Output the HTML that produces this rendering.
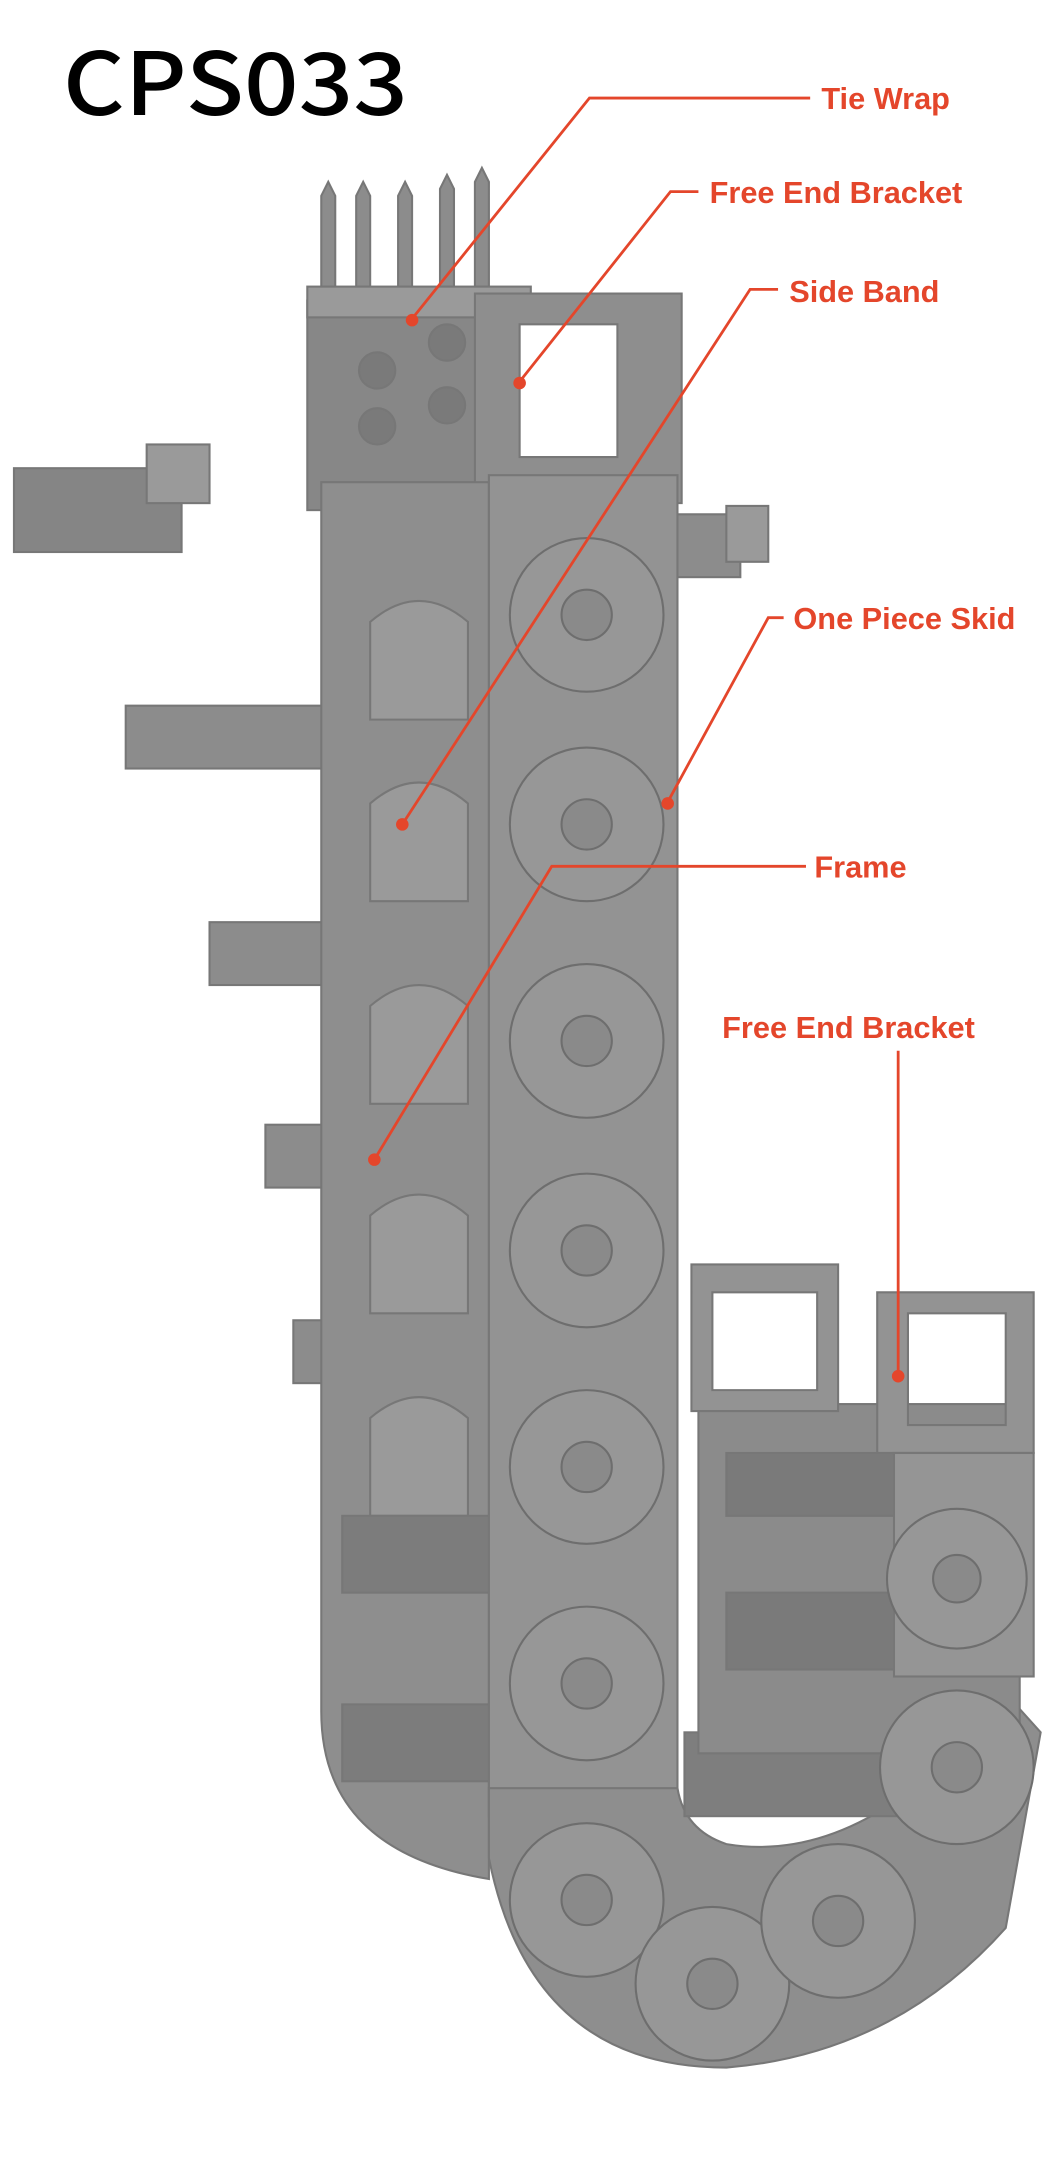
<!DOCTYPE html>
<html><head><meta charset="utf-8"><style>
html,body{margin:0;padding:0;background:#fff;}
svg{display:block;}
.lbl{font-family:"Liberation Sans",sans-serif;font-weight:bold;fill:#e4462b;font-size:22px;}
</style></head><body>
<svg width="1063" height="2181" viewBox="0 0 761 1561" xmlns="http://www.w3.org/2000/svg">
<rect width="761" height="1561" fill="#fff"/>
<text x="45" y="82" font-family="'Noto Sans CJK SC','Liberation Sans',sans-serif" font-weight="500" font-size="62" textLength="247" lengthAdjust="spacingAndGlyphs" fill="#000">CPS033</text>

<g fill="#8c8c8c" stroke="#777" stroke-width="1.5">
<rect x="10" y="335" width="120" height="60" fill="#858585"/>
<rect x="105" y="318" width="45" height="42" fill="#9a9a9a"/>
<rect x="475" y="368" width="55" height="45"/>
<rect x="520" y="362" width="30" height="40" fill="#9a9a9a"/>
<rect x="90" y="505" width="150" height="45"/>
<rect x="150" y="660" width="165" height="45"/>
<rect x="190" y="805" width="160" height="45"/>
<rect x="210" y="945" width="170" height="45"/>
<path d="M230 140 l5 -10 l5 10 v70 h-10z M255 140 l5 -10 l5 10 v70 h-10z M285 140 l5 -10 l5 10 v70 h-10z M315 135 l5 -10 l5 10 v75 h-10z M340 130 l5 -10 l5 10 v80 h-10z"/>
<rect x="220" y="215" width="125" height="150" fill="#878787"/>
<rect x="220" y="205" width="160" height="22" fill="#9a9a9a"/>
<path d="M340 210 h148 v150 h-148z M372 232 v95 h70 v-95z" fill="#8e8e8e" fill-rule="evenodd"/>
<circle cx="270" cy="265" r="13" fill="#7a7a7a"/><circle cx="270" cy="305" r="13" fill="#7a7a7a"/>
<circle cx="320" cy="245" r="13" fill="#7a7a7a"/><circle cx="320" cy="290" r="13" fill="#7a7a7a"/>
<path d="M230 345 h120 v1000 q-60 -10 -90 -40 q-30 -30 -30 -80z" fill="#8e8e8e"/>
<path d="M265 445 q35 -30 70 0 v70 h-70z M265 575 q35 -30 70 0 v70 h-70z M265 720 q35 -30 70 0 v70 h-70z M265 870 q35 -30 70 0 v70 h-70z M265 1015 q35 -30 70 0 v70 h-70z" fill="#9a9a9a"/>
<rect x="245" y="1085" width="110" height="55" fill="#7c7c7c"/>
<rect x="245" y="1220" width="110" height="55" fill="#7c7c7c"/>
<rect x="350" y="340" width="135" height="960" fill="#939393"/>
<path d="M350 1280 L350 1330 Q380 1480 520 1480 Q640 1470 720 1380 L745 1240 L700 1190 L640 1290 Q580 1330 520 1320 Q490 1310 485 1280 Z" fill="#8e8e8e"/>
<rect x="490" y="1240" width="170" height="60" fill="#7e7e7e"/>
<rect x="500" y="1005" width="230" height="250" fill="#8b8b8b"/>
<rect x="520" y="1040" width="150" height="45" fill="#7a7a7a"/>
<rect x="520" y="1140" width="150" height="55" fill="#7a7a7a"/>
<path d="M495 905 h105 v105 h-105z M510 925 v70 h75 v-70z" fill="#939393" fill-rule="evenodd"/>
<path d="M628 925 h112 v115 h-112z M650 940 v80 h70 v-80z" fill="#939393" fill-rule="evenodd"/>
<rect x="640" y="1040" width="100" height="160" fill="#959595"/>
</g>
<g fill="#8a8a8a" stroke="#6e6e6e" stroke-width="1.5">
<circle cx="420" cy="440" r="55" fill="#979797"/><circle cx="420" cy="440" r="18"/>
<circle cx="420" cy="590" r="55" fill="#979797"/><circle cx="420" cy="590" r="18"/>
<circle cx="420" cy="745" r="55" fill="#979797"/><circle cx="420" cy="745" r="18"/>
<circle cx="420" cy="895" r="55" fill="#979797"/><circle cx="420" cy="895" r="18"/>
<circle cx="420" cy="1050" r="55" fill="#979797"/><circle cx="420" cy="1050" r="18"/>
<circle cx="420" cy="1205" r="55" fill="#979797"/><circle cx="420" cy="1205" r="18"/>
<circle cx="420" cy="1360" r="55" fill="#979797"/><circle cx="420" cy="1360" r="18"/>
<circle cx="510" cy="1420" r="55" fill="#979797"/><circle cx="510" cy="1420" r="18"/>
<circle cx="600" cy="1375" r="55" fill="#979797"/><circle cx="600" cy="1375" r="18"/>
<circle cx="685" cy="1265" r="55" fill="#979797"/><circle cx="685" cy="1265" r="18"/>
<circle cx="685" cy="1130" r="50" fill="#979797"/><circle cx="685" cy="1130" r="17"/>
</g>

<g stroke="#e4462b" stroke-width="2" fill="none">
<polyline points="580,70 422,70 295,228"/>
<polyline points="500,137 480,137 372,273"/>
<polyline points="557,207 537,207 288,590"/>
<polyline points="561,442 550,442 478,574"/>
<polyline points="577,620 395,620 268,830"/>
<polyline points="643,752 643,985"/>
</g>
<g fill="#e4462b">
<circle cx="295" cy="229" r="4.5"/><circle cx="372" cy="274" r="4.5"/><circle cx="288" cy="590" r="4.5"/>
<circle cx="478" cy="575" r="4.5"/><circle cx="268" cy="830" r="4.5"/><circle cx="643" cy="985" r="4.5"/>
</g>
<text class="lbl" x="588" y="78">Tie Wrap</text>
<text class="lbl" x="508" y="145">Free End Bracket</text>
<text class="lbl" x="565" y="216">Side Band</text>
<text class="lbl" x="568" y="450">One Piece Skid</text>
<text class="lbl" x="583" y="628">Frame</text>
<text class="lbl" x="517" y="743">Free End Bracket</text>
</svg>
</body></html>
